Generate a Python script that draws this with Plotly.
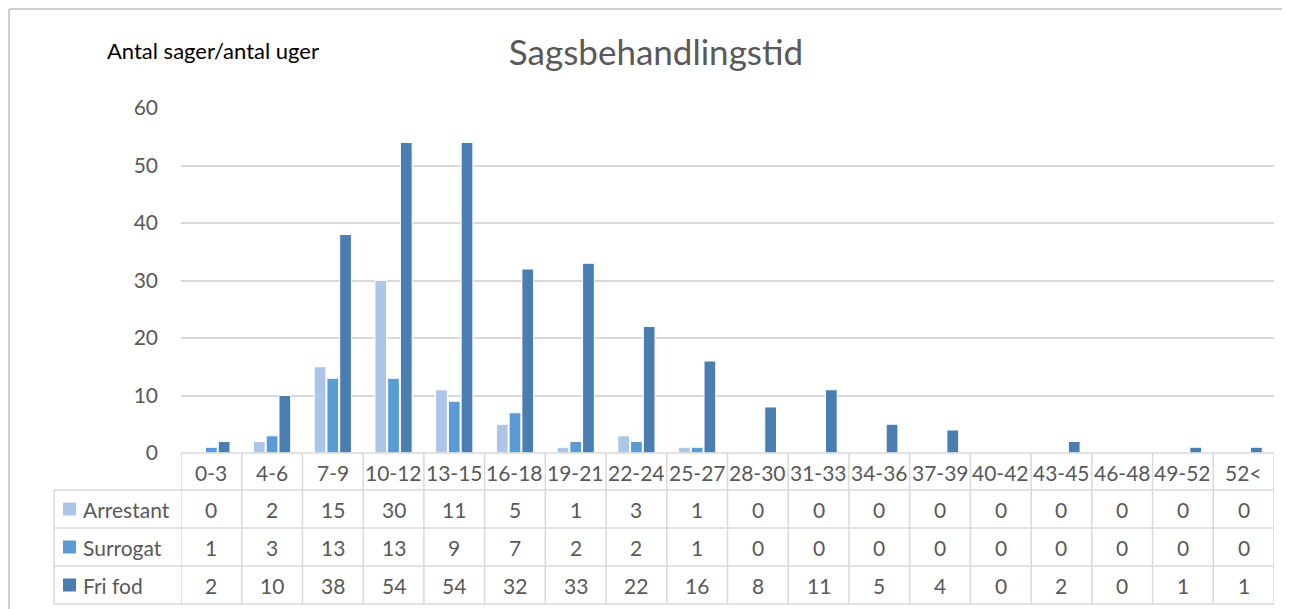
import plotly.graph_objects as go

categories = ["0-3", "4-6", "7-9", "10-12", "13-15", "16-18", "19-21", "22-24", "25-27",
              "28-30", "31-33", "34-36", "37-39", "40-42", "43-45", "46-48", "49-52", "52<"]
arrestant = [0, 2, 15, 30, 11, 5, 1, 3, 1, 0, 0, 0, 0, 0, 0, 0, 0, 0]
surrogat = [1, 3, 13, 13, 9, 7, 2, 2, 1, 0, 0, 0, 0, 0, 0, 0, 0, 0]
fri_fod = [2, 10, 38, 54, 54, 32, 33, 22, 16, 8, 11, 5, 4, 0, 2, 0, 1, 1]
series_names = ["Arrestant", "Surrogat", "Fri fod"]
series_values = [arrestant, surrogat, fri_fod]
colors = ["#ADC6E7", "#5B9BD5", "#4A7EB0"]
y_ticks = [0, 10, 20, 30, 40, 50, 60]

FONT = "Lato"
TXT = "#595959"
GRID = "#D9D9D9"

OFF = 8  # page body margin
W, H = 1290 - OFF, 609 - OFF
L, R, T, B = 181 - OFF, 1274 - OFF, 108 - OFF, 453 - OFF
PW, PH = R - L, B - T

def px_x(p):
    return (p - OFF - L) / PW

def px_y(p):
    return (B - (p - OFF)) / PH

n = len(categories)
idx = list(range(n))

fig = go.Figure()
for name, vals, col in zip(series_names, series_values, colors):
    fig.add_trace(go.Bar(x=idx, y=vals, name=name, marker=dict(color=col, line=dict(color="white", width=1)),
                         showlegend=False, hoverinfo="y+name"))

shapes = []
annotations = []

row_lines = [453, 490, 528, 566, 604]
shapes.append(dict(type="line", xref="paper", yref="paper", x0=0, x1=1, y0=px_y(453), y1=px_y(453),
                   line=dict(color=GRID, width=1.5)))
for p in row_lines[1:]:
    shapes.append(dict(type="line", xref="paper", yref="paper", x0=px_x(54), x1=1, y0=px_y(p), y1=px_y(p),
                       line=dict(color=GRID, width=1.5)))
for i in range(n + 1):
    shapes.append(dict(type="line", xref="x", yref="paper", x0=i - 0.5, x1=i - 0.5, y0=px_y(453), y1=px_y(604),
                       line=dict(color=GRID, width=1.5)))
shapes.append(dict(type="line", xref="paper", yref="paper", x0=px_x(54), x1=px_x(54), y0=px_y(490), y1=px_y(604),
                   line=dict(color=GRID, width=1.5)))
# outer border
shapes.append(dict(type="line", xref="paper", yref="paper", x0=px_x(9), x1=px_x(9), y0=px_y(9), y1=px_y(640),
                   line=dict(color="#BFBFBF", width=1.5)))
shapes.append(dict(type="line", xref="paper", yref="paper", x0=px_x(9), x1=px_x(1320), y0=px_y(9), y1=px_y(9),
                   line=dict(color="#BFBFBF", width=1.5)))

TS = 21
for i, c in enumerate(categories):
    annotations.append(dict(x=i, y=px_y(472), xref="x", yref="paper", text=c, showarrow=False,
                            font=dict(family=FONT, size=TS, color=TXT), xanchor="center", yanchor="middle"))
row_centers = [509, 547, 585]
for name, vals, col, rc in zip(series_names, series_values, colors, row_centers):
    shapes.append(dict(type="rect", xref="paper", yref="paper", x0=px_x(63), x1=px_x(76),
                       y0=px_y(rc + 6.5), y1=px_y(rc - 6.5), fillcolor=col, line=dict(width=0)))
    annotations.append(dict(x=px_x(81), y=px_y(rc), xref="paper", yref="paper", text=name, showarrow=False,
                            font=dict(family=FONT, size=TS, color=TXT), xanchor="left", yanchor="middle"))
    for i, v in enumerate(vals):
        annotations.append(dict(x=i, y=px_y(rc), xref="x", yref="paper", text=str(v), showarrow=False,
                                font=dict(family=FONT, size=TS, color=TXT), xanchor="center", yanchor="middle"))

annotations.append(dict(x=px_x(213), y=px_y(50), xref="paper", yref="paper", text="Antal sager/antal uger",
                        showarrow=False, font=dict(family=FONT, size=22, color="#000000"),
                        xanchor="center", yanchor="middle"))

fig.update_layout(
    width=W, height=H,
    margin=dict(l=L, r=W - R, t=T, b=H - B, pad=0),
    paper_bgcolor="white", plot_bgcolor="white",
    barmode="group", bargap=0.37, bargroupgap=0.08,
    title=dict(text="Sagsbehandlingstid", x=(656 - OFF) / W, xref="container", xanchor="center",
               y=1 - (53 - OFF) / H, yref="container", yanchor="middle",
               font=dict(family=FONT, size=35, color=TXT)),
    xaxis=dict(range=[-0.5, n - 0.5], showticklabels=False, showgrid=False, zeroline=False,
               showline=False, ticks="", fixedrange=True),
    yaxis=dict(range=[0, 60], tickvals=y_ticks, showgrid=True, gridcolor=GRID, gridwidth=1.5,
               zeroline=False, showline=False, ticks="", ticklabelstandoff=22,
               tickfont=dict(family=FONT, size=TS, color=TXT)),
    shapes=shapes, annotations=annotations,
    font=dict(family=FONT),
)

fig.write_html("out.html")
